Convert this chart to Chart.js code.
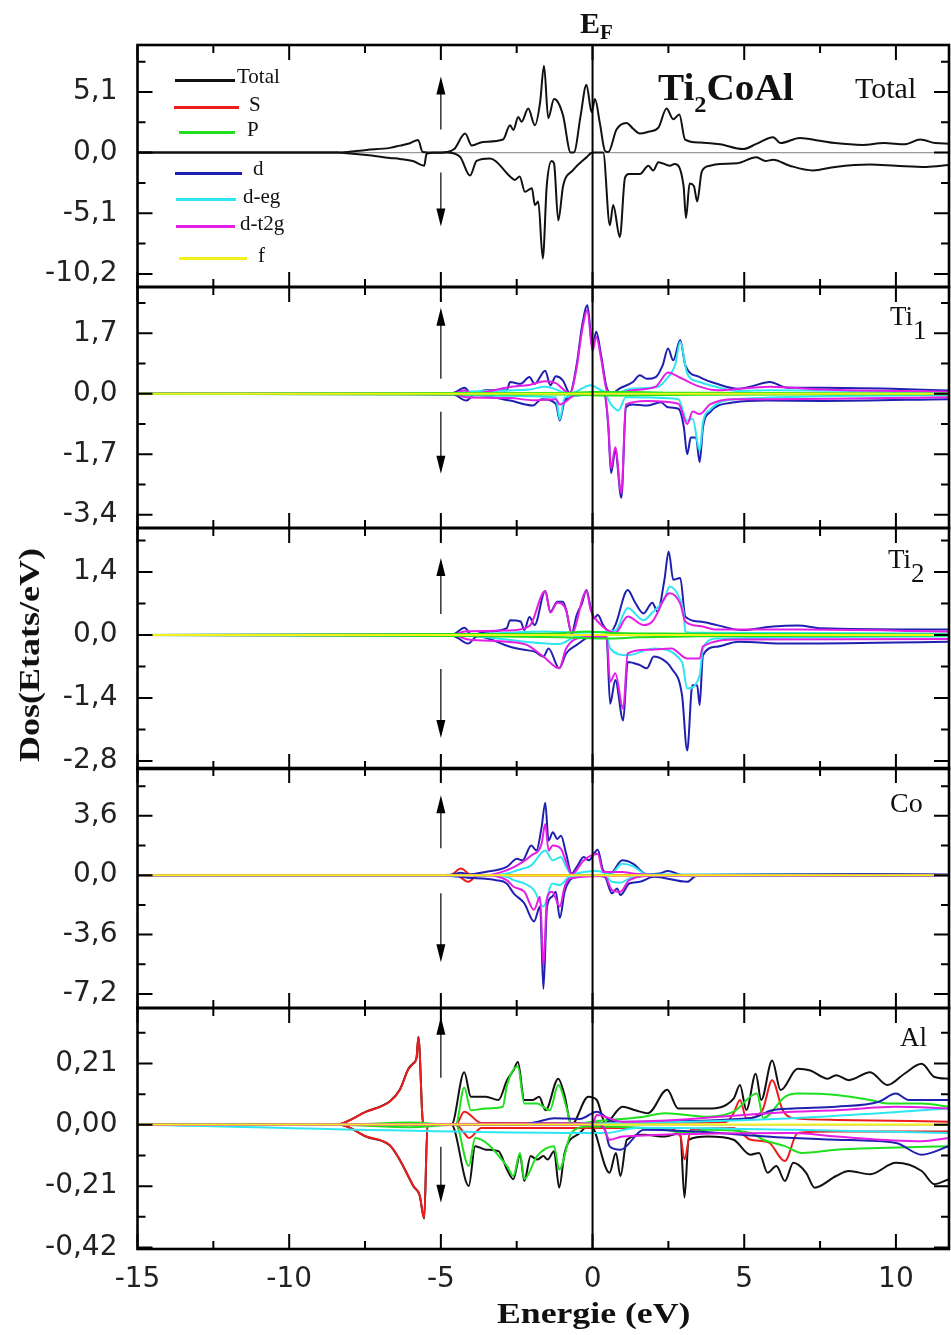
<!DOCTYPE html>
<html>
<head>
<meta charset="utf-8">
<script src="https://cdn.jsdelivr.net/npm/chart.js@4.4.1/dist/chart.umd.min.js"></script>
<style>
  body { margin: 0; width: 951px; height: 1335px; background: #fff; position: relative; overflow: hidden; }
  canvas { position: absolute; left: 0; }
  .t { position: absolute; font-family: "Liberation Serif", "Times New Roman", serif; color: #111; white-space: nowrap; line-height: 1; transform-origin: left center; }
  .b { font-weight: bold; }
  .lg { position: absolute; height: 0; border-top: 3px solid; }
</style>
</head>
<body>
<canvas id="pTotal"></canvas>
<canvas id="pTi1"></canvas>
<canvas id="pTi2"></canvas>
<canvas id="pCo"></canvas>
<canvas id="pAl"></canvas>

<!-- textes -->
<div class="t b" style="left:580px;top:8px;font-size:30px">E<span style="font-size:21px;vertical-align:-6px">F</span></div>
<div class="t b" style="left:658px;top:69px;font-size:37px;transform:scaleX(1.06)">Ti<span style="font-size:23px;vertical-align:-12px">2</span>CoAl</div>
<div class="t" style="left:855px;top:73px;font-size:30px">Total</div>
<div class="t" style="left:890px;top:303px;font-size:27px">Ti<span style="vertical-align:-14px">1</span></div>
<div class="t" style="left:888px;top:546px;font-size:27px">Ti<span style="vertical-align:-14px">2</span></div>
<div class="t" style="left:890px;top:789px;font-size:28px">Co</div>
<div class="t" style="left:900px;top:1024px;font-size:27px">Al</div>
<div class="t b" style="left:497px;top:1298px;font-size:30px;transform:scaleX(1.19)">Energie (eV)</div>
<div class="t b" style="left:29px;top:655px;font-size:30px;transform:translate(-50%,-50%) rotate(-90deg) scaleX(1.2);transform-origin:center">Dos(Etats/eV)</div>

<!-- légende -->
<div class="lg" style="left:175px;top:79px;width:60px;border-color:#111"></div>
<div class="t" style="left:237px;top:66px;font-size:21px">Total</div>
<div class="lg" style="left:174px;top:106px;width:65px;border-color:#ee1c1c"></div>
<div class="t" style="left:249px;top:94px;font-size:21px">S</div>
<div class="lg" style="left:179px;top:131px;width:56px;border-color:#1ee01e"></div>
<div class="t" style="left:247px;top:119px;font-size:21px">P</div>
<div class="lg" style="left:175px;top:172px;width:67px;border-color:#2020b0"></div>
<div class="t" style="left:253px;top:158px;font-size:21px">d</div>
<div class="lg" style="left:176px;top:198px;width:60px;border-color:#2ee6f0"></div>
<div class="t" style="left:243px;top:186px;font-size:21px">d-eg</div>
<div class="lg" style="left:176px;top:225px;width:59px;border-color:#e41ee4"></div>
<div class="t" style="left:240px;top:213px;font-size:21px">d-t2g</div>
<div class="lg" style="left:179px;top:257px;width:68px;border-color:#f2f21a"></div>
<div class="t" style="left:258px;top:245px;font-size:21px">f</div>

<script>
// axe des énergies
const xMin = -15, xMax = 11.75;
const xMajor = [-15, -10, -5, 0, 5, 10];
const xMinor = [-12.5, -7.5, -2.5, 2.5, 7.5];

// graduations verticales des panneaux
const ticksTotal = [-10.2, -5.1, 0, 5.1];
const ticksTi1 = [-3.4, -1.7, 0, 1.7];
const ticksTi2 = [-2.8, -1.4, 0, 1.4];
const ticksCo = [-7.2, -3.6, 0, 3.6];
const ticksAl = [-0.42, -0.21, 0, 0.21];

// ---- Total (spin haut / bas) [E, DOS]
const totUp = [[-15,0],[-8.5,0],[-8.3,0.02],[-7.45,0.23],[-6.68,0.4],[-6.35,0.59],[-6.02,0.79],[-5.75,1.07],[-5.6,0.05],[-5.2,0],[-4.9,0.02],[-4.56,0.3],[-4.2,1.6],[-3.98,0.6],[-3.61,0.9],[-2.95,1.1],[-2.72,2.3],[-2.61,1.9],[-2.45,3.0],[-2.34,2.6],[-2.12,3.7],[-1.9,2.3],[-1.73,4.2],[-1.6,7.3],[-1.46,2.9],[-1.27,4.5],[-1.13,4.2],[-0.97,3.1],[-0.72,0],[-0.6,0.05],[-0.4,3.0],[-0.2,5.7],[-0.03,3.4],[0.08,4.5],[0.24,2.5],[0.41,0.15],[0.52,0.05],[0.79,1.95],[1.12,2.5],[1.34,2.0],[1.56,1.6],[1.84,1.75],[2.17,2.1],[2.44,3.7],[2.66,2.8],[2.86,3.2],[3.05,1.1],[3.54,0.85],[4.2,0.7],[4.96,0.3],[5.4,0.73],[5.95,1.29],[6.2,0.8],[6.83,1.23],[7.5,1.0],[8.0,0.8],[8.9,0.65],[9.6,0.8],[10.3,0.7],[10.8,1.1],[11.3,0.8],[11.75,0.75]];
const totDn = [[-15,0],[-8.4,0],[-8.2,-0.03],[-7.45,-0.2],[-6.68,-0.45],[-6.35,-0.53],[-5.9,-0.73],[-5.55,-1.1],[-5.47,-0.1],[-5.2,-0.02],[-4.81,0],[-4.37,-0.35],[-4.04,-1.93],[-3.82,-0.7],[-3.38,-0.5],[-3.2,-0.7],[-2.72,-2.0],[-2.56,-2.3],[-2.4,-2.0],[-2.23,-3.3],[-2.0,-3.0],[-1.9,-4.4],[-1.79,-4.1],[-1.64,-8.9],[-1.51,-2.8],[-1.35,-0.7],[-1.27,-0.9],[-1.13,-5.7],[-0.97,-2.8],[-0.65,-1.5],[-0.2,-0.4],[0,0],[0.35,0],[0.57,-6.1],[0.68,-4.4],[0.9,-7.1],[1.07,-2.1],[1.2,-1.8],[1.56,-1.8],[1.84,-1.1],[2.0,-1.5],[2.17,-0.8],[2.55,-1.1],[2.7,-0.95],[3.0,-2.8],[3.08,-5.5],[3.2,-2.6],[3.34,-2.8],[3.45,-4.1],[3.6,-1.6],[3.87,-1.1],[4.2,-0.95],[4.75,-0.9],[5.4,-0.39],[5.7,-0.7],[5.95,-0.6],[6.5,-1.1],[7.26,-1.5],[8.0,-1.2],[9.14,-1.0],[10.0,-1.1],[11.0,-1.2],[11.75,-1.05]];

// ---- Ti1
const ti1DUp = [[-15,0],[-6.3,0.01],[-4.6,0.02],[-4.22,0.17],[-3.99,0],[-3.53,0.1],[-2.83,0.1],[-2.72,0.33],[-2.37,0.28],[-2.08,0.47],[-1.91,0.28],[-1.56,0.65],[-1.39,0.24],[-1.21,0.49],[-0.98,0.38],[-0.75,0.02],[-0.52,0.84],[-0.35,1.88],[-0.17,2.49],[0,1.31],[0.12,1.74],[0.29,1.04],[0.46,0.19],[0.64,0],[0.87,0.14],[1.33,0.33],[1.56,0.52],[1.79,0.42],[2.08,0.47],[2.31,0.8],[2.49,1.27],[2.66,0.94],[2.89,1.51],[3.06,0.8],[3.53,0.47],[4.1,0.28],[4.8,0.14],[5.2,0.2],[5.84,0.33],[6.42,0.17],[7.57,0.17],[9.88,0.14],[11.75,0.09]];
const ti1DDn = [[-15,0],[-6.3,-0.01],[-4.6,-0.02],[-4.16,-0.19],[-3.9,-0.03],[-2.72,-0.19],[-1.97,-0.33],[-1.68,-0.15],[-1.21,-0.28],[-1.08,-0.75],[-0.92,-0.2],[-0.52,-0.05],[0.17,0],[0.4,-0.05],[0.52,-0.94],[0.61,-2.23],[0.75,-1.6],[0.95,-2.92],[1.1,-0.38],[1.33,-0.3],[1.79,-0.33],[2.25,-0.24],[2.49,-0.38],[2.83,-0.42],[3.01,-0.94],[3.12,-1.7],[3.24,-1.23],[3.41,-1.23],[3.53,-1.92],[3.64,-0.94],[3.87,-0.52],[4.68,-0.24],[5.72,-0.19],[7.57,-0.2],[11.75,-0.15]];
const ti1EgUp = [[-15,0],[-4.6,0],[-4.22,0.05],[-2.08,0.12],[-1.56,0.2],[-0.75,0.01],[-0.06,0.24],[0.29,0.1],[0.64,0],[1.33,0.15],[2.14,0.19],[2.49,0.47],[2.72,0.8],[2.89,1.46],[3.12,0.57],[3.53,0.33],[4.1,0.19],[4.8,0.08],[5.84,0.1],[11.75,0.03]];
const ti1EgDn = [[-15,0],[-4.6,0],[-4.16,-0.05],[-1.21,-0.1],[-1.08,-0.72],[-0.92,-0.1],[0.4,-0.02],[0.61,-0.3],[0.85,-0.47],[1.1,-0.1],[2.83,-0.15],[3.12,-0.76],[3.3,-0.7],[3.53,-1.6],[3.64,-0.8],[3.87,-0.45],[4.68,-0.15],[11.75,-0.04]];
const ti1T2Up = [[-15,0],[-4.6,0],[-4.22,0.1],[-3.99,0],[-2.72,0.19],[-2.08,0.25],[-1.56,0.35],[-1.21,0.3],[-0.75,0.01],[-0.52,0.75],[-0.35,1.75],[-0.17,2.35],[0,1.2],[0.12,1.6],[0.29,0.95],[0.46,0.12],[0.64,0],[1.33,0.1],[2.08,0.2],[2.49,0.6],[2.89,0.45],[3.53,0.2],[4.1,0.1],[5.84,0.2],[7.57,0.12],[11.75,0.06]];
const ti1T2Dn = [[-15,0],[-4.6,0],[-4.16,-0.1],[-2.72,-0.12],[-1.97,-0.18],[-1.21,-0.15],[-1.08,-0.3],[-0.52,-0.02],[0.4,-0.03],[0.52,-0.85],[0.61,-2.1],[0.75,-1.5],[0.95,-2.8],[1.1,-0.3],[1.79,-0.2],[2.83,-0.28],[3.12,-0.85],[3.3,-0.5],[3.53,-0.57],[3.87,-0.3],[4.68,-0.15],[5.72,-0.15],[11.75,-0.1]];
const ti1PUp = [[-15,0],[-4.3,0.02],[-1,0.02],[0,0.05],[1,0.05],[3,0.03],[11.75,0.01]];
const ti1PDn = [[-15,0],[-4.3,-0.02],[-1,-0.02],[0.5,-0.05],[1.5,-0.04],[3.5,-0.03],[11.75,-0.01]];

// ---- Ti2
const ti2DUp = [[-15,0],[-6.3,0.01],[-4.6,0.02],[-4.22,0.16],[-3.99,0],[-3.53,0.07],[-2.83,0.15],[-2.72,0.33],[-2.37,0.3],[-2.25,0.11],[-2.08,0.4],[-1.91,0.22],[-1.56,0.98],[-1.39,0.52],[-1.16,0.74],[-0.98,0.74],[-0.87,0.56],[-0.69,0.04],[-0.52,0.45],[-0.35,0.7],[-0.2,1.0],[-0.06,0.6],[0.06,0.37],[0.17,0.45],[0.35,0.22],[0.58,0.06],[0.75,0.22],[1.16,1.0],[1.39,0.74],[1.68,0.48],[1.97,0.72],[2.14,0.52],[2.37,1.23],[2.51,1.86],[2.66,1.23],[2.89,1.27],[3.06,0.41],[3.53,0.3],[4.1,0.22],[4.91,0.11],[5.95,0.19],[6.76,0.21],[7.57,0.15],[11.75,0.12]];
const ti2DDn = [[-15,0],[-6.3,-0.01],[-4.6,-0.02],[-4.1,-0.19],[-3.8,-0.03],[-2.72,-0.26],[-2.25,-0.33],[-1.91,-0.37],[-1.62,-0.48],[-1.45,-0.3],[-1.1,-0.74],[-0.87,-0.41],[-0.52,-0.22],[-0.06,-0.04],[0.46,-0.04],[0.58,-1.53],[0.75,-1.0],[1.01,-1.9],[1.16,-0.6],[1.56,-0.67],[1.79,-0.74],[2.02,-0.48],[2.25,-0.52],[2.6,-0.74],[2.95,-1.34],[3.12,-2.57],[3.29,-1.12],[3.45,-1.12],[3.53,-1.56],[3.64,-0.45],[4.1,-0.26],[4.8,-0.15],[6.42,-0.19],[11.75,-0.15]];
const ti2EgUp = [[-15,0],[-4.6,0],[-2.83,0.05],[-1.56,0.08],[-0.52,0.05],[0.75,0.1],[1.16,0.6],[1.68,0.33],[1.97,0.5],[2.37,0.8],[2.54,1.08],[2.89,0.78],[3.0,0.5],[3.06,0.07],[3.53,0.05],[11.75,0.03]];
const ti2EgDn = [[-15,0],[-4.6,0],[-1.1,-0.2],[-0.5,-0.03],[0.46,-0.02],[0.58,-0.3],[1.16,-0.45],[2.02,-0.3],[2.95,-0.6],[3.12,-1.19],[3.53,-0.9],[3.64,-0.3],[4.1,-0.08],[11.75,-0.03]];
const ti2T2Up = [[-15,0],[-4.6,0],[-4.22,0.08],[-2.83,0.1],[-2.08,0.2],[-1.56,0.98],[-1.39,0.5],[-1.16,0.72],[-0.87,0.55],[-0.69,0.03],[-0.2,0.98],[-0.06,0.55],[0.17,0.3],[0.75,0.05],[1.16,0.41],[1.68,0.22],[1.97,0.3],[2.54,0.93],[2.89,0.7],[3.06,0.3],[3.53,0.2],[4.1,0.12],[6.76,0.12],[11.75,0.08]];
const ti2T2Dn = [[-15,0],[-4.6,0],[-4.1,-0.1],[-2.25,-0.2],[-1.62,-0.48],[-1.1,-0.74],[-0.87,-0.3],[-0.3,-0.05],[0.46,-0.03],[0.58,-1.04],[0.75,-0.85],[1.01,-1.64],[1.16,-0.41],[1.79,-0.33],[2.6,-0.3],[3.12,-0.52],[3.53,-0.52],[3.64,-0.25],[4.8,-0.1],[11.75,-0.09]];
const ti2PUp = [[-15,0],[-4.3,0.02],[-1,0.04],[-0.2,0.08],[0.5,0.05],[3,0.03],[11.75,0.01]];
const ti2PDn = [[-15,0],[-4.3,-0.02],[-1,-0.05],[0.5,-0.08],[1.5,-0.05],[3.5,-0.03],[11.75,-0.01]];

// ---- Co
const coDUp = [[-15,0],[-5,0.02],[-4.6,0.05],[-4.34,0.15],[-4.1,0.05],[-3.53,0.2],[-2.83,0.5],[-2.49,1.0],[-2.31,0.9],[-2.02,1.8],[-1.85,1.5],[-1.68,2.9],[-1.56,4.4],[-1.45,2.1],[-1.31,2.6],[-1.16,2.2],[-1.04,2.4],[-0.87,1.3],[-0.69,0.1],[-0.52,0.5],[-0.29,1.1],[-0.12,0.9],[0.17,1.54],[0.35,0.3],[0.58,0.1],[0.98,0.9],[1.33,0.7],[1.79,0.05],[2.2,0.1],[2.49,0.26],[2.95,0.02],[6,0.06],[9,0.08],[11.75,0.05]];
const coDDn = [[-15,0],[-5,-0.02],[-4.1,-0.15],[-3.18,-0.3],[-2.83,-0.5],[-2.6,-1.1],[-2.25,-1.7],[-1.93,-2.8],[-1.73,-1.9],[-1.62,-6.9],[-1.5,-1.9],[-1.33,-1.3],[-1.21,-1.0],[-1.08,-2.6],[-0.92,-1.0],[-0.75,-0.3],[-0.52,-0.1],[-0.06,0],[0.4,-0.1],[0.64,-1.1],[0.81,-0.8],[0.92,-1.2],[1.21,-0.5],[1.56,-0.4],[2.02,-0.1],[3.12,-0.4],[3.41,-0.05],[6,-0.05],[11.75,-0.05]];
const coEgUp = [[-15,0],[-3.5,0],[-2.83,0.1],[-2.49,0.3],[-2.02,0.6],[-1.56,1.5],[-1.31,0.9],[-1.04,1.1],[-0.87,0.5],[-0.69,0.05],[-0.29,0.2],[0.17,0.25],[0.58,0.05],[0.98,0.7],[1.33,0.55],[1.79,0.05],[11.75,0.02]];
const coEgDn = [[-15,0],[-3.5,0],[-2.83,-0.1],[-2.6,-0.3],[-2.25,-0.5],[-1.93,-0.9],[-1.62,-1.9],[-1.33,-0.5],[-1.08,-0.6],[-0.75,-0.1],[0.4,-0.03],[0.64,-0.4],[0.92,-0.45],[1.21,-0.2],[2.02,-0.03],[11.75,-0.02]];
const coT2Up = [[-15,0],[-3.5,0],[-2.83,0.3],[-2.49,0.6],[-2.02,1.2],[-1.68,1.9],[-1.56,3.1],[-1.45,1.5],[-1.31,1.8],[-1.04,1.6],[-0.87,0.8],[-0.69,0.05],[-0.29,0.9],[0.17,1.3],[0.35,0.2],[0.98,0.2],[1.33,0.1],[2.0,0.02],[11.75,0.02]];
const coT2Dn = [[-15,0],[-3.5,0],[-2.83,-0.3],[-2.6,-0.7],[-2.25,-1.0],[-1.93,-2.1],[-1.73,-1.3],[-1.62,-5.5],[-1.5,-1.4],[-1.33,-1.0],[-1.08,-1.9],[-0.92,-0.7],[-0.75,-0.2],[0.4,-0.05],[0.64,-0.9],[0.92,-1.0],[1.21,-0.3],[2.0,-0.03],[11.75,-0.02]];
const coSUp = [[-15,0],[-4.7,0],[-4.34,0.4],[-4.0,0.02],[11.75,0.01]];
const coSDn = [[-15,0],[-4.5,0],[-4.1,-0.4],[-3.8,-0.02],[11.75,-0.01]];

// ---- Al
const alTotUp = [[-15,0],[-8.49,0],[-7.45,0.046],[-6.68,0.081],[-6.35,0.121],[-6.07,0.192],[-5.9,0.212],[-5.8,0.232],[-5.74,0.302],[-5.58,0],[-4.65,0],[-4.23,0.18],[-4.01,0.096],[-3.52,0.096],[-3.1,0.085],[-2.82,0.153],[-2.61,0.186],[-2.46,0.215],[-2.25,0.085],[-1.97,0.085],[-1.76,0.096],[-1.55,0.05],[-1.13,0.158],[-0.92,0.1],[-0.7,0],[-0.14,0.096],[0.14,0.085],[0.42,0.006],[0.99,0.062],[1.41,0.05],[1.83,0.04],[2.46,0.12],[2.82,0.056],[3.8,0.056],[4.65,0.09],[4.86,0.136],[5.07,0.051],[5.38,0.175],[5.56,0.085],[5.92,0.22],[6.2,0.119],[6.76,0.192],[7.18,0.186],[7.75,0.158],[8.03,0.17],[8.45,0.153],[9.15,0.18],[9.72,0.136],[10.28,0.175],[10.85,0.209],[11.27,0.164],[11.75,0.158]];
const alTotDn = [[-15,0],[-8.33,0],[-7.45,-0.041],[-6.68,-0.071],[-6.35,-0.121],[-6.05,-0.181],[-5.9,-0.211],[-5.7,-0.241],[-5.55,-0.321],[-5.44,0],[-4.65,0],[-4.08,-0.209],[-3.87,-0.073],[-3.52,-0.085],[-3.1,-0.09],[-2.82,-0.153],[-2.61,-0.186],[-2.39,-0.102],[-2.25,-0.192],[-2.04,-0.107],[-1.83,-0.119],[-1.62,-0.107],[-1.48,-0.119],[-1.27,-0.09],[-1.1,-0.215],[-0.92,-0.096],[-0.42,-0.028],[-0.07,0],[0.56,-0.164],[0.77,-0.096],[0.92,-0.175],[1.13,-0.051],[1.69,-0.034],[2.39,-0.04],[2.89,-0.028],[3.03,-0.249],[3.17,-0.051],[3.8,-0.04],[4.65,-0.051],[5.21,-0.102],[5.49,-0.096],[5.77,-0.164],[6.06,-0.141],[6.34,-0.192],[6.62,-0.13],[7.04,-0.164],[7.32,-0.215],[8.03,-0.175],[8.45,-0.158],[9.15,-0.169],[10.0,-0.13],[10.85,-0.158],[11.27,-0.203],[11.75,-0.186]];
const alSUp = [[-15,0],[-8.49,0],[-7.45,0.045],[-6.68,0.08],[-6.35,0.12],[-6.07,0.19],[-5.9,0.21],[-5.8,0.23],[-5.74,0.3],[-5.58,0],[-4.51,0],[-4.23,0.045],[-3.66,0.006],[4.4,0.01],[4.65,0.04],[4.86,0.085],[5.07,0.023],[5.6,0.05],[5.92,0.153],[6.27,0.05],[6.62,0.023],[8.03,0.017],[11.75,0.011]];
const alSDn = [[-15,0],[-8.33,0],[-7.45,-0.04],[-6.68,-0.07],[-6.35,-0.12],[-6.05,-0.18],[-5.9,-0.21],[-5.7,-0.24],[-5.55,-0.32],[-5.44,0],[-4.51,0],[-4.23,-0.028],[-4.08,-0.045],[-3.66,-0.011],[2.39,-0.011],[2.9,-0.04],[3.03,-0.119],[3.24,-0.017],[4.65,-0.011],[5.21,-0.051],[5.8,-0.06],[6.34,-0.124],[6.76,-0.028],[8.03,-0.023],[11.75,-0.023]];
const alPUp = [[-15,0],[-8.5,0],[-6,0.008],[-4.51,0],[-4.23,0.128],[-4.01,0.05],[-3.52,0.056],[-2.96,0.062],[-2.82,0.136],[-2.46,0.2],[-2.25,0.073],[-1.83,0.073],[-1.41,0.05],[-1.13,0.136],[-0.85,0.056],[-0.7,0],[0,0.011],[1.69,0.028],[2.39,0.04],[3.8,0.028],[4.65,0.045],[5.42,0.107],[5.63,0.023],[6.34,0.096],[6.76,0.107],[8.03,0.102],[9.15,0.085],[9.72,0.073],[10.85,0.073],[11.75,0.062]];
const alPDn = [[-15,0],[-8.5,0],[-6,-0.008],[-4.51,0],[-4.08,-0.141],[-3.87,-0.045],[-2.82,-0.141],[-2.61,-0.175],[-2.39,-0.096],[-2.25,-0.186],[-1.83,-0.107],[-1.27,-0.073],[-1.1,-0.153],[-0.7,-0.028],[-0.14,-0.006],[2.39,-0.017],[3.03,-0.028],[3.8,-0.017],[5.21,-0.028],[5.63,-0.051],[6.34,-0.073],[6.9,-0.096],[8.03,-0.085],[9.44,-0.079],[11.75,-0.073]];
const alDUp = [[-15,0],[-2.5,0],[-1.83,0.01],[-1.27,0.023],[-0.42,0.02],[0.14,0.045],[0.7,0.011],[5.21,0.023],[5.92,0.05],[6.62,0.056],[8.03,0.062],[9.44,0.079],[10.0,0.107],[10.42,0.085],[11.75,0.085]];
const alDDn = [[-15,0],[0.2,0],[0.42,-0.02],[0.56,-0.073],[0.92,-0.085],[1.69,-0.017],[6.62,-0.045],[8.03,-0.051],[10.0,-0.062],[10.85,-0.102],[11.75,-0.073]];
const alEgUp = [[-15,0],[0,0.005],[6.62,0.023],[9.44,0.04],[11.75,0.056]];
const alEgDn = [[-15,0],[0.42,-0.028],[1.5,-0.01],[6.62,-0.017],[9.44,-0.023],[11.75,-0.028]];
const alT2Up = [[-15,0],[0,0.005],[0.14,0.034],[1,0.01],[6.62,0.045],[8.03,0.05],[10.0,0.062],[11.75,0.056]];
const alT2Dn = [[-15,0],[0.3,0],[0.56,-0.051],[0.99,-0.04],[6.62,-0.028],[8.03,-0.04],[10.85,-0.056],[11.75,-0.045]];
const fFlat = [[-15,0.003],[11.75,0.003]];
const fFlatAl = [[-15,0.001],[11.75,0.001]];

const C = { tot: '#111111', s: '#ee1c1c', p: '#1ee01e', d: '#2020b0', eg: '#2ee6f0', t2: '#e41ee4', f: '#f2f21a' };

// panneaux : bord haut / bas du cadre (px), limites verticales
const panels = [
  { id: 'pTotal', top: 45, bottom: 287, min: -11.3, max: 9.05, ticks: ticksTotal, dec: 1,
    arrows: [-23, -76, 20, 74],
    series: [[totUp, 'tot'], [totDn, 'tot']] },
  { id: 'pTi1', top: 287, bottom: 527.5, min: -3.77, max: 3.0, ticks: ticksTi1, dec: 1,
    arrows: [-15, -86, 18, 80],
    series: [[fFlat, 'f'], [ti1PUp, 'p'], [ti1PDn, 'p'], [ti1T2Up, 't2'], [ti1T2Dn, 't2'], [ti1EgUp, 'eg'], [ti1EgDn, 'eg'], [ti1DUp, 'd'], [ti1DDn, 'd']] },
  { id: 'pTi2', top: 527.5, bottom: 768, min: -2.98, max: 2.38, ticks: ticksTi2, dec: 1,
    arrows: [-21, -77, 34, 103],
    series: [[fFlat, 'f'], [ti2PUp, 'p'], [ti2PDn, 'p'], [ti2T2Up, 't2'], [ti2T2Dn, 't2'], [ti2EgUp, 'eg'], [ti2EgDn, 'eg'], [ti2DUp, 'd'], [ti2DDn, 'd']] },
  { id: 'pCo', top: 768, bottom: 1008.3, min: -8.05, max: 6.5, ticks: ticksCo, dec: 1,
    arrows: [-27, -80, 18, 87],
    series: [[fFlat, 'f'], [coT2Up, 't2'], [coT2Dn, 't2'], [coEgUp, 'eg'], [coEgDn, 'eg'], [coDUp, 'd'], [coDDn, 'd'], [coSUp, 's'], [coSDn, 's']] },
  { id: 'pAl', top: 1008.3, bottom: 1249, min: -0.425, max: 0.4, ticks: ticksAl, dec: 2, last: true,
    arrows: [-47, -108, 22, 78],
    series: [[fFlatAl, 'f'], [alT2Up, 't2'], [alT2Dn, 't2'], [alEgUp, 'eg'], [alEgDn, 'eg'], [alDUp, 'd'], [alDDn, 'd'], [alPUp, 'p'], [alPDn, 'p'], [alSUp, 's'], [alSDn, 's'], [alTotUp, 'tot'], [alTotDn, 'tot']] },
];

const PAD = 12;

// cadre, graduations internes, E_F, flèches de spin
const framePlugin = {
  id: 'frame',
  beforeDatasetsDraw(chart) {
    const { ctx, chartArea: a, scales: { y } } = chart;
    const y0 = y.getPixelForValue(0);
    ctx.save();
    ctx.strokeStyle = '#9a9a9a';
    ctx.lineWidth = 1.2;
    ctx.beginPath(); ctx.moveTo(a.left, y0); ctx.lineTo(a.right, y0); ctx.stroke();
    ctx.restore();
  },
  afterDatasetsDraw(chart, args, opts) {
    const { ctx, chartArea: a, scales: { x, y } } = chart;
    ctx.save();
    ctx.strokeStyle = '#000';
    ctx.fillStyle = '#000';

    // niveau de Fermi
    const xf = x.getPixelForValue(0);
    ctx.lineWidth = 2;
    ctx.beginPath(); ctx.moveTo(xf, a.top); ctx.lineTo(xf, a.bottom); ctx.stroke();

    // flèches
    const xa = x.getPixelForValue(-5);
    const y0 = y.getPixelForValue(0);
    const [u0, u1, d0, d1] = opts.arrows;
    const arrow = (from, to) => {
      const dir = Math.sign(to - from);
      ctx.lineWidth = 1.2;
      ctx.beginPath(); ctx.moveTo(xa, y0 + from); ctx.lineTo(xa, y0 + to - dir * 14); ctx.stroke();
      ctx.beginPath();
      ctx.moveTo(xa, y0 + to);
      ctx.lineTo(xa - 4.5, y0 + to - dir * 18);
      ctx.lineTo(xa + 4.5, y0 + to - dir * 18);
      ctx.closePath(); ctx.fill();
    };
    arrow(u0, u1);
    arrow(d0, d1);

    // graduations internes
    ctx.lineWidth = 2;
    const tickX = (v, len) => {
      const px = x.getPixelForValue(v);
      ctx.beginPath();
      ctx.moveTo(px, a.top); ctx.lineTo(px, a.top + len);
      ctx.moveTo(px, a.bottom); ctx.lineTo(px, a.bottom - len);
      ctx.stroke();
    };
    xMajor.forEach(v => tickX(v, 15));
    xMinor.forEach(v => tickX(v, 8));
    const tickY = (v, len) => {
      const py = y.getPixelForValue(v);
      if (py < a.top - 1 || py > a.bottom + 1) return;
      ctx.beginPath();
      ctx.moveTo(a.left, py); ctx.lineTo(a.left + len, py);
      ctx.moveTo(a.right, py); ctx.lineTo(a.right - len, py);
      ctx.stroke();
    };
    const tk = opts.ticks;
    const step = tk[1] - tk[0];
    tk.forEach(v => tickY(v, 15));
    tk.forEach(v => tickY(v + step / 2, 8));

    // cadre
    ctx.lineWidth = 2.6;
    ctx.strokeRect(a.left, a.top, a.right - a.left, a.bottom - a.top);
    ctx.restore();
  }
};

panels.forEach(p => {
  const cv = document.getElementById(p.id);
  const extra = p.last ? 58 : PAD;
  const h = Math.round(p.bottom - p.top + PAD + extra);
  cv.width = 951; cv.height = h;
  cv.style.width = '951px'; cv.style.height = h + 'px';
  cv.style.top = (p.top - PAD) + 'px';

  const datasets = p.series.map(([pts, key], i) => ({
    data: pts.map(([x, y]) => ({ x, y })),
    borderColor: C[key],
    borderWidth: 2,
    pointRadius: 0,
    cubicInterpolationMode: 'monotone',
    fill: false,
    order: i,
  }));

  new Chart(cv, {
    type: 'line',
    data: { datasets },
    plugins: [framePlugin],
    options: {
      responsive: false,
      animation: false,
      devicePixelRatio: 1,
      layout: { autoPadding: false, padding: { top: PAD, bottom: p.last ? 0 : PAD, left: 0, right: 2 } },
      plugins: {
        legend: { display: false },
        tooltip: { enabled: false },
        frame: { arrows: p.arrows, ticks: p.ticks },
      },
      scales: {
        x: {
          type: 'linear', min: xMin, max: xMax,
          grid: { display: false, drawTicks: false },
          border: { display: false },
          afterBuildTicks: s => { s.ticks = xMajor.map(v => ({ value: v })); },
          afterFit: s => {
            s.height = p.last ? 58 : 0;
            s.paddingLeft = 0; s.paddingRight = 0; s.paddingTop = 0; s.paddingBottom = 0;
          },
          ticks: {
            display: !!p.last, padding: 14, color: '#222',
            font: { family: 'DejaVu Sans', size: 28 },
            maxRotation: 0,
            callback: v => String(v),
          },
        },
        y: {
          min: p.min, max: p.max,
          grid: { display: false, drawTicks: false },
          border: { display: false },
          afterBuildTicks: s => { s.ticks = p.ticks.map(v => ({ value: v })); },
          afterFit: s => {
            s.width = 137.5;
            s.paddingTop = 0; s.paddingBottom = 0; s.paddingLeft = 0; s.paddingRight = 0;
          },
          ticks: {
            padding: 20, color: '#222',
            font: { family: 'DejaVu Sans', size: 28 },
            callback: v => v.toFixed(p.dec).replace('.', ','),
          },
        },
      },
    },
  });
});
</script>
</body>
</html>
